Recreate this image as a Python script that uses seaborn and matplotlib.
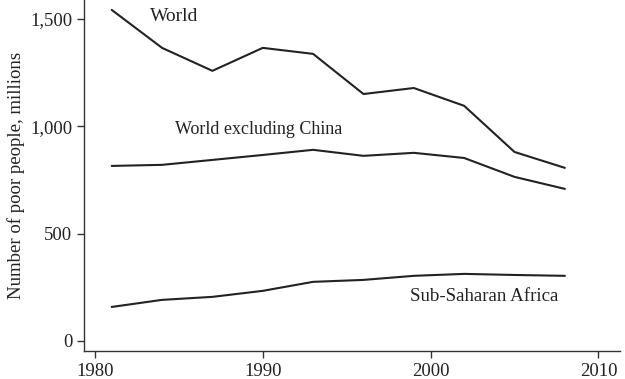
import pandas as pd
import numpy as np
import seaborn as sns
import matplotlib.pyplot as plt
from matplotlib.ticker import FuncFormatter

# Data (millions of poor people)
years = [1981, 1984, 1987, 1990, 1993, 1996, 1999, 2002, 2005, 2008]
world = [1542, 1365, 1258, 1365, 1337, 1150, 1178, 1095, 880, 806]
world_ex_china = [815, 820, 843, 866, 890, 862, 876, 852, 764, 708]
ssa = [158, 191, 205, 233, 275, 284, 303, 312, 307, 303]

df = pd.DataFrame({
    'year': years * 3,
    'poor': world + world_ex_china + ssa,
    'series': ['World'] * 10 + ['World excluding China'] * 10 + ['Sub-Saharan Africa'] * 10,
})

sns.set_style('ticks')
plt.rcParams['font.family'] = ['Liberation Serif', 'DejaVu Serif']

fig = plt.figure(figsize=(6.25, 3.79), dpi=100)
ax = fig.add_axes([0.1344, 0.074, 0.858, 0.926])

sns.lineplot(data=df, x='year', y='poor', hue='series',
             palette=['#222222'] * 3, linewidth=1.5, legend=False, ax=ax)

ax.set_xlim(1979.35, 2011.3)
ax.set_ylim(-47, 1588)
ax.set_xticks([1980, 1990, 2000, 2010])
ax.set_yticks([0, 500, 1000, 1500])
ax.yaxis.set_major_formatter(FuncFormatter(lambda v, p: f'{int(v):,}'))
ax.tick_params(labelsize=13.5, length=5, width=1, color='#333333', labelcolor='#222222')
ax.set_xlabel('')
ax.set_ylabel('Number of poor people, millions', fontsize=13.5, color='#222222')
sns.despine(ax=ax)
for s in ['left', 'bottom']:
    ax.spines[s].set_color('#333333')
    ax.spines[s].set_linewidth(1)

ax.text(1983.3, 1509, 'World', fontsize=14, va='center', color='#222222')
ax.text(1984.8, 983, 'World excluding China', fontsize=13, va='center', color='#222222')
ax.text(1998.75, 205, 'Sub-Saharan Africa', fontsize=13.6, va='center', color='#222222')

plt.savefig('out.png', dpi=100)
plt.close()
